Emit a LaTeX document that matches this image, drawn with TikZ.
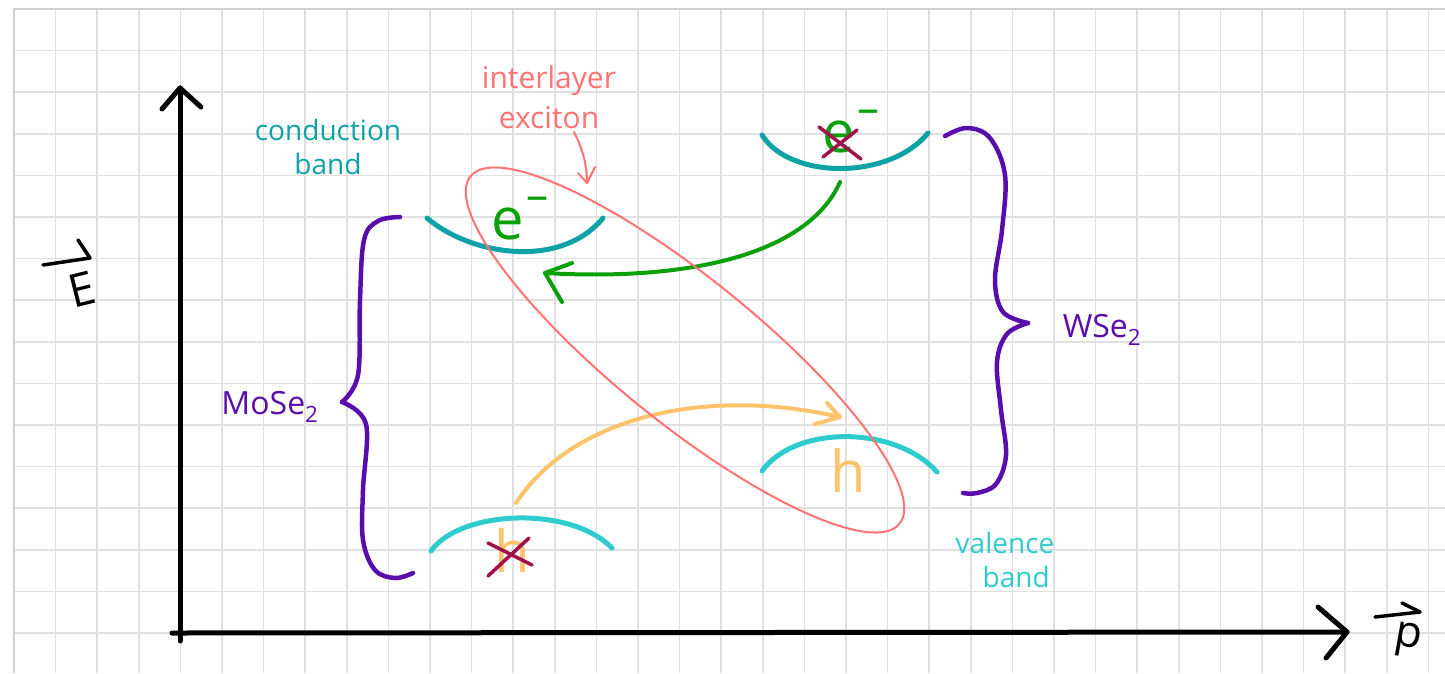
\documentclass[tikz,border=0pt]{standalone}
\usepackage{fontspec}
\setmainfont{Open Sans}
\definecolor{gridgray}{HTML}{E0E0E0}
\definecolor{bordergray}{HTML}{D0D0D0}
\definecolor{cbteal}{HTML}{0DA3A6}
\definecolor{vbcyan}{HTML}{2ECCCC}
\definecolor{egreen}{HTML}{0AA00A}
\definecolor{horange}{HTML}{FFC36B}
\definecolor{salmon}{HTML}{FF7373}
\definecolor{brpurple}{HTML}{5A0DAD}
\definecolor{xmagenta}{HTML}{A0104C}
\newcommand{\eminus}{e\hspace{0.05em}\raisebox{0.5em}{\fontsize{44}{44}\selectfont –}}
\begin{document}
\begin{tikzpicture}[x=1pt,y=-1pt,
  gridline/.style={draw=gridgray, line width=1.5pt},
  axisline/.style={draw=black, line width=5pt, line cap=round, line join=round},
  cband/.style={draw=cbteal, line width=5pt, line cap=round},
  vband/.style={draw=vbcyan, line width=5pt, line cap=round},
  bracestyle/.style={draw=brpurple, line width=4.5pt, line cap=round, line join=round},
  garrow/.style={draw=egreen, line width=4pt, line cap=round, line join=round},
  oarrow/.style={draw=horange, line width=4pt, line cap=round, line join=round},
  sline/.style={draw=salmon, line width=2pt, line cap=round, line join=round},
  crossline/.style={draw=xmagenta, line width=3.5pt, line cap=round},
  lab/.style={inner sep=0pt, align=center, font=\fontsize{28}{34}\selectfont},
  particle/.style={inner sep=0pt, font=\fontsize{58}{58}\selectfont}
]
\useasboundingbox (0,0) rectangle (1445,673);
\fill[white] (0,0) rectangle (1445,673);
% grid
\foreach \i in {0,...,34} \draw[gridline] ({14+41.6*\i},9) -- ({14+41.6*\i},673);
\foreach \j in {0,...,15} \draw[gridline] (14,{9+41.6*\j}) -- (1445,{9+41.6*\j});
\draw[draw=bordergray, line width=2.5pt] (14,673) -- (14,9) -- (1445,9);

% axes
\coordinate (ybase) at (180,641);
\coordinate (ytip) at (180,88);
\coordinate (xbase) at (172,633);
\coordinate (xtip) at (1347,632);
\draw[axisline] (ybase) -- (ytip);
\draw[axisline] (xbase) -- (xtip);
\draw[axisline] (ytip) ++(-18,21) -- (ytip) -- ++(21,19);
\draw[axisline] (xtip) ++(-29,-25) -- (xtip) -- ++(-21,26);

% axis labels
\node[lab, font=\fontsize{46}{46}\selectfont, rotate=14] (Elab) at (82,289) {E};
\coordinate (Earrs) at (43,265);
\coordinate (Earre) at (90,258);
\draw[axisline, line width=3.5pt] (Earrs) -- (Earre) -- ++(-12,-18);
\node[lab, font=\fontsize{44}{44}\selectfont, rotate=-10] (plab) at (1408,640) {p};
\coordinate (parrs) at (1375,617);
\coordinate (parre) at (1420,612);
\draw[axisline, line width=3.5pt] (parrs) -- (parre) -- ++(-18,-9);

% bands
\coordinate (cbLa) at (427,218);
\coordinate (cbLb) at (603,218);
\draw[cband] (cbLa) .. controls (470,255) and (560,270) .. (cbLb);
\coordinate (cbRa) at (762,135);
\coordinate (cbRb) at (928,133);
\draw[cband] (cbRa) .. controls (790,180) and (890,180) .. (cbRb);
\coordinate (vbLa) at (431,551);
\coordinate (vbLb) at (612,548);
\draw[vband] (vbLa) .. controls (460,510) and (570,505) .. (vbLb);
\coordinate (vbRa) at (762,471);
\coordinate (vbRb) at (937,472);
\draw[vband] (vbRa) .. controls (795,425) and (895,425) .. (vbRb);

% particles
\node[particle, text=egreen] (eL) at (520,219) {\eminus};
\node[particle, text=egreen] (eR) at (851,132) {\eminus};
\draw[crossline] (819,127) -- (861,159);
\draw[crossline] (823,157) -- (857,130);
\node[particle, text=horange] (hR) at (848,470) {h};
\node[particle, text=horange] (hL) at (512,550) {h};
\draw[crossline] (488,543) -- (532,565);
\draw[crossline] (488,576) -- (529,538);

% transfer arrows
\coordinate (gstart) at (840,182);
\coordinate (gtip) at (545,273);
\draw[garrow] (gstart) .. controls (810,250) and (700,282) .. (gtip);
\draw[garrow] (gtip) ++(27,-10) -- (gtip) -- ++(17,29);
\coordinate (ostart) at (516,503);
\coordinate (otip) at (840,417);
\draw[oarrow] (ostart) .. controls (570,420) and (700,385) .. (otip);
\draw[oarrow] (otip) ++(-13,-14) -- (otip) -- ++(-25,7);

% exciton
\draw[sline, rotate around={-39:(685,350)}] (685,350) ellipse [x radius=276, y radius=72];
\node[lab, text=salmon, font=\fontsize{30}{40}\selectfont] (exlab) at (549,97) {interlayer\\exciton};
\coordinate (sstart) at (574,132);
\coordinate (stip) at (587,183);
\draw[sline] (sstart) .. controls (583,150) and (587,165) .. (stip);
\draw[sline] (stip) ++(-9,-10) -- (stip) -- ++(8,-16);

% band labels
\node[lab, text=cbteal] (cblab) at (328,147) {conduction\\band};
\node[lab, text=vbcyan] (vblab) at (1005,560) {valence\\\hspace*{0.8em}band};

% braces
\draw[bracestyle] plot[smooth, tension=0.6] coordinates {(400,217) (378,221) (364,240) (360,300) (358,375) (342,402)};
\draw[bracestyle] plot[smooth, tension=0.6] coordinates {(342,402) (366,424) (363,490) (363,540) (375,570) (395,578) (413,573)};
\draw[bracestyle] plot[smooth, tension=0.6] coordinates {(945,136) (967,128) (990,138) (1005,175) (1002,230) (995,280) (1003,312) (1028,323)};
\draw[bracestyle] plot[smooth, tension=0.6] coordinates {(1028,323) (1007,334) (997,362) (1001,410) (1006,455) (996,484) (977,493) (963,493)};
\node[lab, text=brpurple, font=\fontsize{32}{34}\selectfont] (moselab) at (270,407) {MoSe\textsubscript{2}};
\node[lab, text=brpurple, font=\fontsize{32}{34}\selectfont] (wselab) at (1102,330) {WSe\textsubscript{2}};
\end{tikzpicture}
\end{document}
